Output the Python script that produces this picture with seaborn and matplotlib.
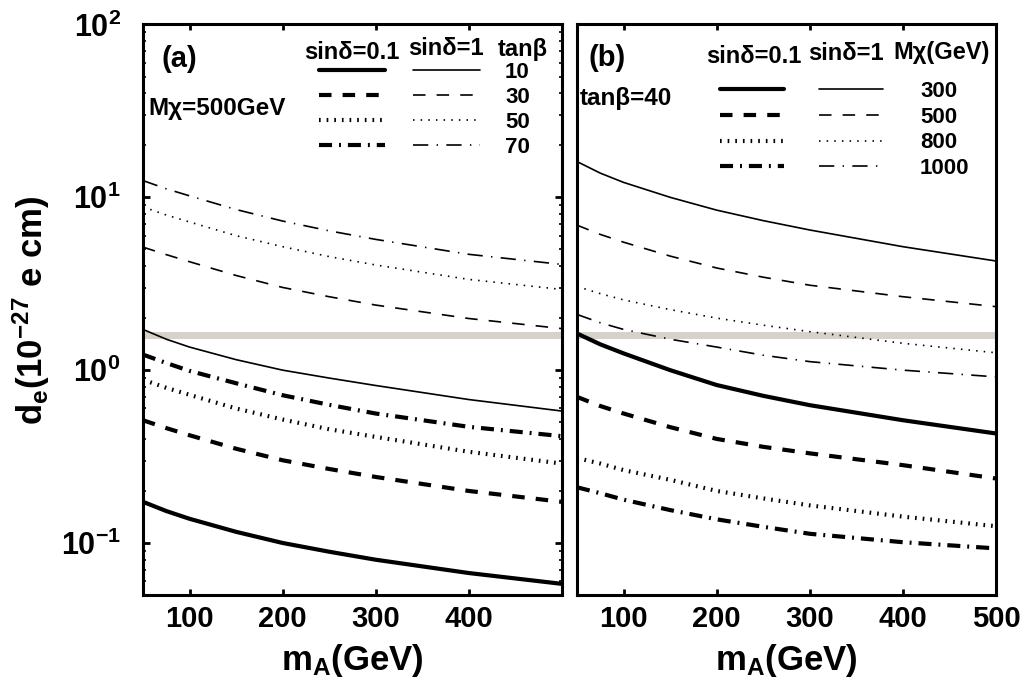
import numpy as np
import pandas as pd
import matplotlib
matplotlib.use("Agg")
import matplotlib.pyplot as plt
import seaborn as sns
from matplotlib.legend_handler import HandlerTuple
from matplotlib.ticker import LogLocator, LogFormatterMathtext, NullFormatter, FixedLocator

# ---------------- data ----------------
m_A = [50, 75, 100, 150, 200, 250, 300, 400, 500]

# panel (a): M_chi = 500 GeV ; sin(delta)=1 (thin) and 0.1 (thick) for tan(beta)=10,30,50,70
a_tb10_s1 = [1.72, 1.51, 1.36, 1.15, 1.00, 0.90, 0.815, 0.676, 0.58]
a_tb30_s1 = [5.15, 4.66, 4.24, 3.53, 3.01, 2.66, 2.38, 1.99, 1.74]
a_tb50_s1 = [8.8, 7.9, 7.2, 6.0, 5.18, 4.54, 4.06, 3.35, 2.93]
a_tb70_s1 = [12.5, 11.2, 10.2, 8.5, 7.29, 6.4, 5.71, 4.68, 4.09]
a_tb10_s01 = [0.173, 0.153, 0.138, 0.116, 0.100, 0.089, 0.080, 0.067, 0.058]
a_tb30_s01 = [0.513, 0.462, 0.42, 0.351, 0.301, 0.268, 0.241, 0.20, 0.173]
a_tb50_s01 = [0.88, 0.79, 0.72, 0.60, 0.518, 0.455, 0.411, 0.337, 0.288]
a_tb70_s01 = [1.23, 1.10, 0.99, 0.84, 0.716, 0.63, 0.561, 0.47, 0.415]
tanb_labels = ["10", "30", "50", "70"]

# panel (b): tan(beta) = 40 ; M_chi = 300,500,800,1000 GeV
b_m300_s1 = [16.1, 13.8, 12.2, 10.0, 8.43, 7.33, 6.47, 5.18, 4.28]
b_m500_s1 = [6.9, 6.1, 5.5, 4.57, 3.9, 3.45, 3.1, 2.66, 2.33]
b_m800_s1 = [3.05, 2.77, 2.55, 2.24, 2.0, 1.82, 1.67, 1.43, 1.26]
b_m1000_s1 = [2.1, 1.88, 1.72, 1.51, 1.36, 1.22, 1.12, 1.0, 0.914]
b_m300_s01 = [1.63, 1.41, 1.25, 1.0, 0.82, 0.71, 0.627, 0.513, 0.43]
b_m500_s01 = [0.70, 0.62, 0.561, 0.468, 0.40, 0.36, 0.33, 0.282, 0.236]
b_m800_s01 = [0.31, 0.288, 0.264, 0.232, 0.20, 0.181, 0.165, 0.142, 0.125]
b_m1000_s01 = [0.21, 0.194, 0.178, 0.155, 0.137, 0.124, 0.113, 0.101, 0.093]
mchi_labels = ["300", "500", "800", "1000"]

edm_bound = 1.6

# ---------------- style ----------------
sns.set_style("ticks")
plt.rcParams["font.family"] = ["Liberation Sans", "DejaVu Sans"]
plt.rcParams["font.weight"] = "bold"
plt.rcParams["mathtext.fontset"] = "custom"
plt.rcParams["mathtext.rm"] = "Liberation Sans:bold"
plt.rcParams["mathtext.it"] = "Liberation Sans:bold"
plt.rcParams["mathtext.bf"] = "Liberation Sans:bold"
plt.rcParams["mathtext.default"] = "bf"
plt.rcParams["lines.scale_dashes"] = False
plt.rcParams["axes.unicode_minus"] = True
for key in ["text.color", "axes.labelcolor", "xtick.color", "ytick.color", "axes.edgecolor"]:
    plt.rcParams[key] = "black"

THICK, THIN = 3.0, 1.2
styles_thick = ["-", (0, (9, 8)), (0, (1.2, 4.3)), (0, (9.4, 5, 1.4, 5))]
styles_thin = ["-", (0, (9, 8)), (0, (1.1, 4.4)), (0, (11, 6, 1, 6))]

fig = plt.figure(figsize=(10.28, 6.88), dpi=100)
axa = fig.add_axes([0.1391, 0.1352, 0.4073, 0.8292])
axb = fig.add_axes([0.5613, 0.1352, 0.4076, 0.8292])


def draw(ax, thick_series, thin_series):
    thick_lines, thin_lines = [], []
    for vals, ls in zip(thick_series, styles_thick):
        n0 = len(ax.lines)
        sns.lineplot(x=m_A, y=vals, ax=ax, color="black", lw=THICK,
                     linestyle=ls, legend=False)
        thick_lines.append(ax.lines[n0])
    for vals, ls in zip(thin_series, styles_thin):
        n0 = len(ax.lines)
        sns.lineplot(x=m_A, y=vals, ax=ax, color="black", lw=THIN,
                     linestyle=ls, legend=False)
        thin_lines.append(ax.lines[n0])
    ax.axhline(edm_bound, color="#d6d2ca", lw=5, zorder=1)
    ax.set_yscale("log")
    ax.set_ylim(0.05, 100)
    ax.set_xlim(50, 500)
    for sp in ax.spines.values():
        sp.set_linewidth(2.2)
        sp.set_color("black")
        sp.set_visible(True)
    return thick_lines, thin_lines


ta, tha = draw(axa, [a_tb10_s01, a_tb30_s01, a_tb50_s01, a_tb70_s01],
               [a_tb10_s1, a_tb30_s1, a_tb50_s1, a_tb70_s1])
tb, thb = draw(axb, [b_m300_s01, b_m500_s01, b_m800_s01, b_m1000_s01],
               [b_m300_s1, b_m500_s1, b_m800_s1, b_m1000_s1])

# ticks
axa.xaxis.set_major_locator(FixedLocator([100, 200, 300, 400]))
axb.xaxis.set_major_locator(FixedLocator([100, 200, 300, 400, 500]))
for ax in (axa, axb):
    ax.tick_params(axis="x", which="major", direction="in", top=True, bottom=True,
                   length=4, width=2, labelsize=21, pad=7, colors="black")
    ax.set_xlabel(r"m$_{\mathrm{A}}$(GeV)", fontsize=25, fontweight="bold", labelpad=7,
                  color="black")
    ax.xaxis.set_minor_locator(FixedLocator([]))

axa.yaxis.set_major_locator(LogLocator(base=10))
axa.yaxis.set_major_formatter(LogFormatterMathtext())
axa.yaxis.set_minor_locator(LogLocator(base=10, subs=np.arange(2, 10)))
axa.yaxis.set_minor_formatter(NullFormatter())
axa.tick_params(axis="y", which="major", direction="in", left=True, right=True,
                length=5, width=2, labelsize=22, pad=16, colors="black")
axa.tick_params(axis="y", which="minor", direction="in", left=True, right=True,
                length=2.5, width=1.2, colors="black")
axb.tick_params(axis="y", which="both", left=False, right=False, labelleft=False)
axb.yaxis.set_minor_formatter(NullFormatter())
for lab in axa.get_xticklabels() + axb.get_xticklabels() + axa.get_yticklabels():
    lab.set_fontweight("bold")

axa.set_ylabel(r"d$_{\mathrm{e}}$(10$^{-27}$ e cm)", fontsize=25, fontweight="bold",
               labelpad=6, color="black")

# legends
leg_prop = dict(weight="bold", size=16)
la = axa.legend(handles=[(a, b) for a, b in zip(ta, tha)], labels=tanb_labels,
                loc="upper left", bbox_to_anchor=(0.420, 0.934), frameon=False,
                borderpad=0, borderaxespad=0, handlelength=7.25, handletextpad=1.13,
                labelspacing=0.18, prop=leg_prop, labelcolor="black",
                handler_map={tuple: HandlerTuple(ndivide=None, pad=1.26)})
lb = axb.legend(handles=[(a, b) for a, b in zip(tb, thb)], labels=mchi_labels,
                loc="upper left", bbox_to_anchor=(0.341, 0.901), frameon=False,
                borderpad=0, borderaxespad=0, handlelength=7.34, handletextpad=1.67,
                labelspacing=0.21, prop=leg_prop, labelcolor="black",
                handler_map={tuple: HandlerTuple(ndivide=None, pad=1.58)})

# annotations
txt = dict(fontweight="bold", color="black")
axa.text(0.088, 0.939, "(a)", transform=axa.transAxes, ha="center", va="center",
         fontsize=21, **txt)
axa.text(0.012, 0.8536, "M\u03c7=500GeV", transform=axa.transAxes, ha="left", va="center",
         fontsize=17.5, **txt)
axa.text(0.498, 0.940, "sin\u03b4=0.1", transform=axa.transAxes, ha="center", va="baseline",
         fontsize=17, **txt)
axa.text(0.7237, 0.946, "sin\u03b4=1", transform=axa.transAxes, ha="center", va="baseline",
         fontsize=17, **txt)
axa.text(0.848, 0.945, "tan\u03b2", transform=axa.transAxes, ha="left", va="baseline",
         fontsize=17, **txt)

axb.text(0.0716, 0.941, "(b)", transform=axb.transAxes, ha="center", va="center",
         fontsize=21, **txt)
axb.text(0.007, 0.871, "tan\u03b2=40", transform=axb.transAxes, ha="left", va="center",
         fontsize=17.5, **txt)
axb.text(0.4224, 0.9325, "sin\u03b4=0.1", transform=axb.transAxes, ha="center", va="baseline",
         fontsize=17, **txt)
axb.text(0.642, 0.938, "sin\u03b4=1", transform=axb.transAxes, ha="center", va="baseline",
         fontsize=17, **txt)
axb.text(0.869, 0.94, "M\u03c7(GeV)", transform=axb.transAxes, ha="center", va="baseline",
         fontsize=17, **txt)

fig.savefig("out.png", dpi=100)
